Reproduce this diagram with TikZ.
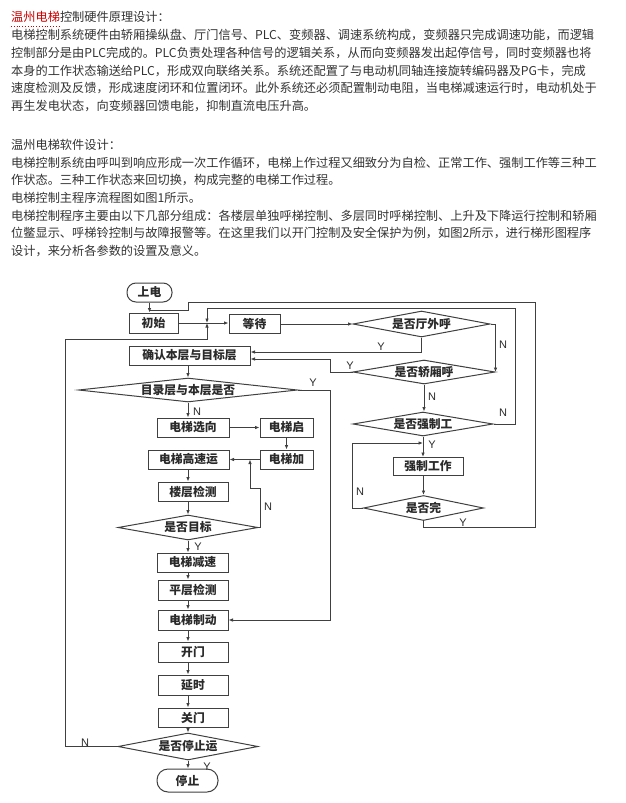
\documentclass[tikz,border=0pt]{standalone}
\usepackage{fontspec}
\setmainfont{Noto Sans CJK SC}
\newfontfamily\labfont{Liberation Sans}
\usetikzlibrary{arrows.meta,shapes.geometric}
\definecolor{txt}{HTML}{333333}
\definecolor{ln}{HTML}{404040}
\definecolor{redt}{HTML}{CC0000}
\definecolor{fct}{HTML}{2a2a2a}
\newcommand\dtxt[1]{\makebox[0pt]{#1}}
\begin{document}
\begin{tikzpicture}[x=1pt,y=-1pt,
  para/.style={anchor=base west, inner sep=0pt, text=txt, font=\fontsize{12.2pt}{14pt}\selectfont},
  box/.style={draw=ln, line width=1pt, rectangle, inner sep=0pt, text=fct, font=\bfseries\fontsize{11.8pt}{14pt}\selectfont},
  stad/.style={box, rounded corners=9pt},
  dia/.style={draw=ln, line width=1pt, diamond, shape aspect=1, inner sep=0pt, text=fct, font=\bfseries\fontsize{11.8pt}{14pt}\selectfont},
  con/.style={draw=ln, line width=0.9pt},
  arr/.style={con, -{Latex[length=4.5pt,width=3.6pt]}},
  yn/.style={inner sep=0pt, text=fct, font=\labfont\fontsize{11pt}{12pt}\selectfont}]
\useasboundingbox (0,0) rectangle (625,803);
\fill[white] (0,0) rectangle (625,803);

% ---------- text ----------
\node[para] (t1) at (11,21.6) {\textcolor{redt}{温州电梯}控制硬件原理设计：};
\draw[redt, dotted, line width=0.8pt] ([yshift=-5pt]t1.base west) -- ([xshift=48.8pt,yshift=-5pt]t1.base west);
\node[para] (t2) at (11,39.4) {电梯控制系统硬件由轿厢操纵盘、厅门信号、PLC、变频器、调速系统构成，变频器只完成调速功能，而逻辑};
\node[para] (t3) at (11,57.2) {控制部分是由PLC完成的。PLC负责处理各种信号的逻辑关系，从而向变频器发出起停信号，同时变频器也将};
\node[para] (t4) at (11,75.0) {本身的工作状态输送给PLC，形成双向联络关系。系统还配置了与电动机同轴连接旋转编码器及PG卡，完成};
\node[para] (t5) at (11,92.8) {速度检测及反馈，形成速度闭环和位置闭环。此外系统还必须配置制动电阻，当电梯减速运行时，电动机处于};
\node[para] (t6) at (11,110.6) {再生发电状态，向变频器回馈电能，抑制直流电压升高。};

\node[para] (s1) at (11,149.6) {温州电梯软件设计：};
\node[para] (s2) at (11,167.2) {电梯控制系统由呼叫到响应形成一次工作循环，电梯上作过程又细致分为自检、正常工作、强制工作等三种工};
\node[para] (s3) at (11,184.8) {作状态。三种工作状态来回切换，构成完整的电梯工作过程。};
\node[para] (s4) at (11,202.4) {电梯控制主程序流程图如图1所示。};
\node[para] (s5) at (11,220.0) {电梯控制程序主要由以下几部分组成：各楼层单独呼梯控制、多层同时呼梯控制、上升及下降运行控制和轿厢};
\node[para] (s6) at (11,237.6) {位鳖显示、呼梯铃控制与故障报警等。在这里我们以开门控制及安全保护为例，如图2所示，进行梯形图程序};
\node[para] (s7) at (11,255.2) {设计，来分析各参数的设置及意义。};

% ---------- flowchart: left column ----------
\node[stad, minimum width=45pt, minimum height=19pt] (sd) at (149.5,292.5) {上电};
\node[box, minimum width=49pt, minimum height=20pt] (cs) at (153.5,323) {初始};
\node[box, minimum width=51pt, minimum height=19pt] (dd) at (254.5,324) {等待};
\node[box, minimum width=121pt, minimum height=19pt] (qr) at (189.5,355.5) {确认本层与目标层};
\node[dia, minimum width=219pt, minimum height=24pt] (d1) at (188,390) {\dtxt{目录层与本层是否}};
\node[box, minimum width=72pt, minimum height=19pt] (xx) at (193,427.5) {电梯选向};
\node[box, minimum width=53pt, minimum height=19pt] (qd) at (286.5,427.5) {电梯启};
\node[box, minimum width=53pt, minimum height=19pt] (jj) at (286.5,459.5) {电梯加};
\node[box, minimum width=81pt, minimum height=19pt] (gs) at (188.5,459.5) {电梯高速运};
\node[box, minimum width=70pt, minimum height=19pt] (lc) at (193,491.5) {楼层检测};
\node[dia, minimum width=140pt, minimum height=25pt] (d2) at (188,527.5) {\dtxt{是否目标}};
\node[box, minimum width=71pt, minimum height=19pt] (js) at (192.5,562.5) {电梯减速};
\node[box, minimum width=70pt, minimum height=20pt] (pc) at (193,590) {平层检测};
\node[box, minimum width=70pt, minimum height=20pt] (zd) at (193,620) {电梯制动};
\node[box, minimum width=70pt, minimum height=20pt] (km) at (193,652) {开门};
\node[box, minimum width=70pt, minimum height=20pt] (ys) at (193,685) {延时};
\node[box, minimum width=70pt, minimum height=19pt] (gm) at (193,717.5) {关门};
\node[dia, minimum width=140pt, minimum height=27pt] (d3) at (188,746.5) {\dtxt{是否停止运}};
\node[stad, rounded corners=11pt, minimum width=61pt, minimum height=23pt] (tz) at (187.5,780.5) {停止};

% ---------- flowchart: right column ----------
\node[dia, minimum width=137pt, minimum height=26pt] (d4) at (421.5,324) {\dtxt{是否厅外呼}};
\node[dia, minimum width=142pt, minimum height=24pt] (d5) at (424,372) {\dtxt{是否轿厢呼}};
\node[dia, minimum width=140pt, minimum height=24pt] (d6) at (423,424) {\dtxt{是否强制工}};
\node[box, minimum width=70pt, minimum height=18pt] (qz) at (428,466.5) {强制工作};
\node[dia, minimum width=120pt, minimum height=25pt] (d7) at (423.5,508) {\dtxt{是否完}};

% ---------- helper coordinates ----------
\coordinate (J) at (207,323);
\coordinate (ri) at (515,308);
\coordinate (lb) at (65,339);
\coordinate (ro) at (535,302);
\coordinate (ob) at (423.5,527);
\coordinate (os) at (188,310);
\coordinate (y1) at (330,390);
\coordinate (n2) at (250,488);
\coordinate (y4) at (421.5,352);
\coordinate (y5) at (330,359);
\coordinate (n7) at (352,443);

% ---------- connectors ----------
\draw[arr] (sd.south) -- (sd.south |- cs.north);
\draw[arr] (cs.east) -- (cs.east -| dd.west);
\draw[arr] (dd.east) -- (d4.west);
\draw[arr] (d1.north |- qr.south) -- (d1.north);
\draw[arr] (d1.south) -- (d1.south |- xx.north);
\draw[arr] (xx.east) -- (qd.west);
\draw[arr] (qd.south) -- (qd.south |- jj.north);
\draw[arr] (jj.west) -- (gs.east);
\draw[arr] (d1.south |- gs.south) -- (d1.south |- lc.north);
\draw[arr] (d2.north |- lc.south) -- (d2.north);
\draw[arr] (d2.south) -- (d2.south |- js.north);
\draw[arr] (d2.south |- js.south) -- (d2.south |- pc.north);
\draw[arr] (d2.south |- pc.south) -- (d2.south |- zd.north);
\draw[arr] (d2.south |- zd.south) -- (d2.south |- km.north);
\draw[arr] (d2.south |- km.south) -- (d2.south |- ys.north);
\draw[arr] (d2.south |- ys.south) -- (d2.south |- gm.north);
\draw[arr] (d3.north |- gm.south) -- (d3.north);
\draw[arr] (d3.south) -- (d3.south |- tz.north);

\draw[arr] (d2.east) -- ++(1.5,0) |- (n2) -- (n2 |- jj.west);
\draw[arr] (d1.east) -- (y1) |- (zd.east);
\draw[arr] (d3.west) -| (lb) -| (J);
\draw[arr] (d6.east) -| (ri) -| (J);
\draw[con] (d7.south) -- (ob) -| (ro) -| (os) -- (os -| sd.south);

\draw[arr] (d4.south) -- (y4) -- (y4 -| qr.east);
\draw[arr] (d4.east) -| (d5.east);
\draw[arr] (d5.west) -| (y5) -- (y5 -| qr.east);
\draw[arr] (d5.south) -- (d5.south |- d6.north);
\draw[arr] (d6.south) -- (d6.south |- qz.north);
\draw[arr] (d7.north |- qz.south) -- (d7.north);
\draw[arr] (d7.west) -| (n7) -- (n7 -| d6.south);

% ---------- Y / N labels ----------
\node[yn] (la) at (381,347) {Y};
\node[yn] (lb2) at (503,345) {N};
\node[yn] (lc2) at (350,366) {Y};
\node[yn] (ld) at (432,397) {N};
\node[yn] (le) at (503,413) {N};
\node[yn] (lf) at (432,445) {Y};
\node[yn] (lg) at (360,492) {N};
\node[yn] (lh) at (463,523) {Y};
\node[yn] (li) at (313,383) {Y};
\node[yn] (lj) at (197,412) {N};
\node[yn] (lk) at (268,507) {N};
\node[yn] (ll) at (198,547) {Y};
\node[yn] (lm) at (85,743) {N};
\node[yn] (ln2) at (207,767) {Y};
\end{tikzpicture}
\end{document}
